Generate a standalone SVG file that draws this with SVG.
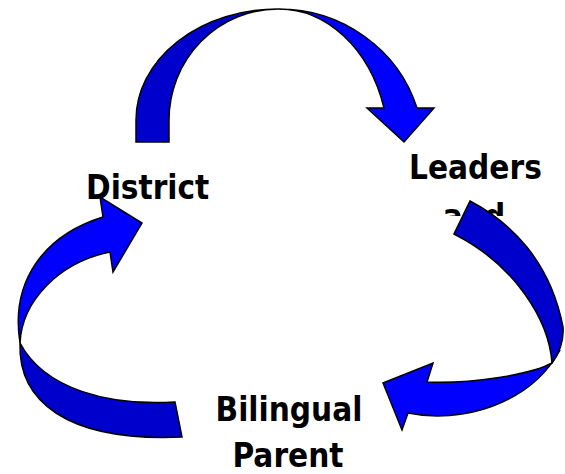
<svg xmlns="http://www.w3.org/2000/svg" width="565" height="474" viewBox="0 0 565 474">
<style>
.lbl{font-family:"DejaVu Sans Condensed","DejaVu Sans",sans-serif;font-weight:bold;font-size:33px;fill:#000}
.lt{fill:#0000FF;stroke:#000;stroke-width:1.5;stroke-linejoin:miter}
.dk{fill:#0000CC;stroke:#000;stroke-width:1.5;stroke-linejoin:miter}
</style>
<defs>
<clipPath id="clipAnd"><rect x="380" y="190" width="185" height="26"/></clipPath>
</defs>
<rect width="565" height="474" fill="#fff"/>
<g id="node-district"><text class="lbl" x="86" y="199">District</text></g>
<g id="node-leaders">
<text class="lbl" x="409" y="179">Leaders</text>
<text class="lbl" x="474" y="228" text-anchor="middle" clip-path="url(#clipAnd)">and</text>
</g>
<g id="node-parent">
<text class="lbl" x="289" y="421" text-anchor="middle">Bilingual</text>
<text class="lbl" x="288" y="467" text-anchor="middle">Parent</text>
</g>
<g id="connectors">
<g id="arrow-top">
<path class="dk" d="M136,142 L136,120 A142,111 0 0 1 278,9 A109,111 0 0 0 169,120 L169,142 Z"/>
<path class="lt" d="M278,9 A145,141 0 0 1 417,108 L434,108 L404,142 L367,108 L384,108 A110,141 0 0 0 278,9 Z"/>
</g>
<g id="arrow-right">
<path class="lt" d="M552,363 C530,375 470,384 427,382 L433,363 L383,383 L402,430 L408,413 C460,424 530,405 560,350 Z"/>
<path class="dk" d="M470,201 C510,222 550,260 563,327 C564,340 560,352 552,363 C549,320 515,265 454,234 Z"/>
</g>
<g id="arrow-left">
<path class="lt" d="M103,217 C45,235 10,280 20,343 C22,300 60,262 110,252 L113,272 L142,223 L100,197 Z"/>
<path class="dk" d="M20,343 C18,400 65,442 182,437 L175,402 C110,406 45,390 20,343 Z"/>
</g>
</g>
</svg>
